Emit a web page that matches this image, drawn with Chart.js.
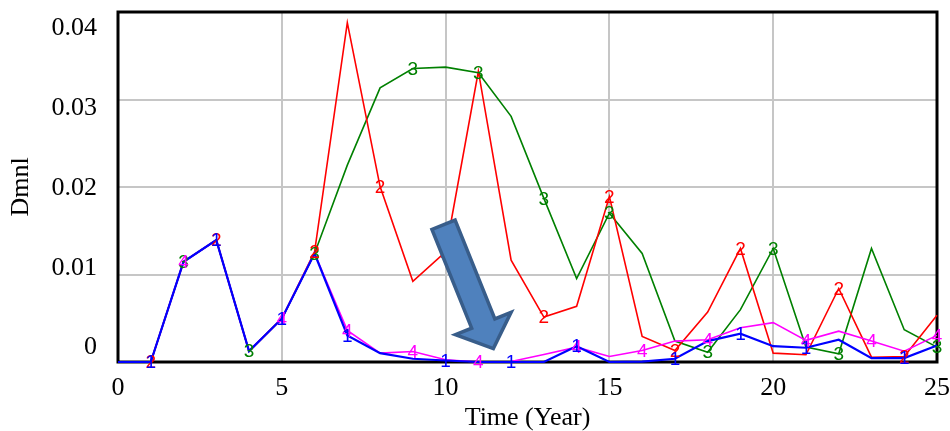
<!DOCTYPE html>
<html>
<head>
<meta charset="utf-8">
<script src="https://cdn.jsdelivr.net/npm/chart.js@4.4.1/dist/chart.umd.min.js"></script>
<style>
  html, body { margin: 0; padding: 0; background: #ffffff; }
  canvas { display: block; }
</style>
</head>
<body>
<canvas id="chart" width="950" height="431"></canvas>
<script>
// Simulation output, one value per year
const years = [0, 1, 2, 3, 4, 5, 6, 7, 8, 9, 10, 11, 12, 13, 14, 15, 16, 17, 18, 19, 20, 21, 22, 23, 24, 25];

const series1 = [0, 0, 0.01145, 0.01393, 0.00124, 0.00495, 0.0124, 0.00304, 0.00101, 0.00037, 0.00017, 0, 0, 0,
  0.00181, 0, 0.00005, 0.00037, 0.00239, 0.00323, 0.00181, 0.00163, 0.00255, 0.00044, 0.00044, 0.00189];
const series2 = [0, 0, 0.01145, 0.01393, 0.00124, 0.00495, 0.0126, 0.03878, 0.02005, 0.00923, 0.0126, 0.03323, 0.01164, 0.00514,
  0.00636, 0.0189, 0.00292, 0.00132, 0.00571, 0.01298, 0.00101, 0.00083, 0.0084, 0.00055, 0.00063, 0.00533];
const series3 = [0, 0, 0.01145, 0.01393, 0.00124, 0.00495, 0.0124, 0.0225, 0.03133, 0.03354, 0.0337, 0.03305, 0.02807, 0.0187,
  0.00954, 0.017, 0.0124, 0.00239, 0.00112, 0.00598, 0.01298, 0.0017, 0.00094, 0.01298, 0.00369, 0.0017];
const series4 = [0, 0, 0.01145, 0.01393, 0.00124, 0.00495, 0.0124, 0.00361, 0.00101, 0.0012, 0.00025, 0, 0.00005, 0.00086,
  0.0017, 0.00063, 0.00132, 0.00239, 0.00255, 0.00392, 0.0045, 0.00247, 0.00353, 0.00239, 0.00124, 0.00304];

// Years at which each run carries its number tag
const marks1 = [1, 3, 5, 7, 10, 12, 14, 17, 19, 21, 24];
const marks2 = [1, 3, 6, 8, 10, 13, 15, 17, 19, 22, 24];
const marks3 = [2, 4, 6, 9, 11, 13, 15, 18, 20, 22, 25];
const marks4 = [2, 5, 7, 9, 11, 14, 16, 18, 21, 23, 25];

const runNames = ['1', '2', '3', '4'];
const runColors = ['#0000ff', '#ff0000', '#008000', '#ff00ff'];

// Axis ticks
const xTickValues = [0, 5, 10, 15, 20, 25];
const yTickValues = [0, 0.01, 0.02, 0.03, 0.04];
const yTickLabels = ['0', '0.01', '0.02', '0.03', '0.04'];
const xTitle = 'Time (Year)';
const yTitle = 'Dmnl';

// Block arrow, tail and tip in data units
const arrowTail = { x: 9.92, y: 0.01585 };
const arrowTip = { x: 11.48, y: 0.00132 };

const SERIF = '"Liberation Serif", "Times New Roman", serif';
const SANS = '"Liberation Sans", Arial, sans-serif';

function toPoints(values) {
  return years.map((t, i) => ({ x: t, y: values[i] }));
}

const allSeries = [series1, series2, series3, series4];
const allMarks = [marks1, marks2, marks3, marks4];
const drawOrder = [1, 3, 4, 2];
const widths = [2.2, 1.6, 1.6, 1.6];

const datasets = allSeries.map((vals, i) => ({
  label: runNames[i],
  data: toPoints(vals),
  borderColor: runColors[i],
  backgroundColor: runColors[i],
  borderWidth: widths[i],
  pointRadius: 0,
  pointHoverRadius: 0,
  tension: 0,
  fill: false,
  clip: 6,
  order: drawOrder[i],
  marks: allMarks[i]
}));

// Heavy frame around the plot area, drawn under the runs
const framePlugin = {
  id: 'plotFrame',
  beforeDatasetsDraw(chart) {
    const { ctx, chartArea: a } = chart;
    ctx.save();
    ctx.strokeStyle = '#000000';
    ctx.lineWidth = 3;
    ctx.strokeRect(a.left, a.top, a.right - a.left, a.bottom - a.top);
    ctx.restore();
  }
};

// Number tags along each run, placed on the line's own points
const tagPlugin = {
  id: 'runTags',
  afterDatasetsDraw(chart) {
    const ctx = chart.ctx;
    ctx.save();
    ctx.font = '19px ' + SANS;
    ctx.textAlign = 'center';
    ctx.textBaseline = 'middle';
    const metas = chart.getSortedVisibleDatasetMetas().slice().reverse();
    metas.forEach(meta => {
      const ds = chart.data.datasets[meta.index];
      ctx.fillStyle = ds.borderColor;
      ds.marks.forEach(t => {
        const idx = years.indexOf(t);
        const el = meta.data[idx];
        if (el) ctx.fillText(ds.label, el.x, el.y + 1);
      });
    });
    ctx.restore();
  }
};

// Block arrow pointing down to the low runs
const arrowPlugin = {
  id: 'blockArrow',
  afterDatasetsDraw(chart) {
    const { ctx, scales } = chart;
    const x0 = scales.x.getPixelForValue(arrowTail.x);
    const y0 = scales.y.getPixelForValue(arrowTail.y);
    const x1 = scales.x.getPixelForValue(arrowTip.x);
    const y1 = scales.y.getPixelForValue(arrowTip.y);
    const dx = x1 - x0, dy = y1 - y0;
    const len = Math.hypot(dx, dy);
    const ux = dx / len, uy = dy / len;
    const px = -uy, py = ux;
    const shaftHalf = 12.5, headHalf = 30;
    const start = 1.5, end = len - 2, headLen = 27;
    const pt = (u, v) => [x0 + ux * u + px * v, y0 + uy * u + py * v];
    const poly = [
      pt(start, -shaftHalf), pt(end - headLen, -shaftHalf), pt(end - headLen, -headHalf),
      pt(end, 0),
      pt(end - headLen, headHalf), pt(end - headLen, shaftHalf), pt(start, shaftHalf)
    ];
    ctx.save();
    ctx.beginPath();
    poly.forEach((p, i) => (i ? ctx.lineTo(p[0], p[1]) : ctx.moveTo(p[0], p[1])));
    ctx.closePath();
    ctx.fillStyle = '#4f81bd';
    ctx.fill();
    ctx.lineJoin = 'miter';
    ctx.lineWidth = 3.5;
    ctx.strokeStyle = '#385d8a';
    ctx.stroke();
    ctx.restore();
  }
};

function zeroPadding(scale) {
  scale.paddingTop = 0;
  scale.paddingBottom = 0;
  scale.paddingLeft = 0;
  scale.paddingRight = 0;
}

new Chart(document.getElementById('chart'), {
  type: 'line',
  data: { datasets },
  options: {
    responsive: false,
    devicePixelRatio: 1,
    animation: false,
    events: [],
    layout: { padding: { top: 12, right: 13, left: 0, bottom: 0 } },
    plugins: {
      legend: { display: false },
      tooltip: { enabled: false }
    },
    scales: {
      x: {
        type: 'linear',
        min: 0,
        max: 25,
        afterBuildTicks: s => { s.ticks = xTickValues.map(v => ({ value: v })); },
        afterFit: s => { s.height = 69; zeroPadding(s); },
        border: { display: false },
        grid: { color: '#c6c6c6', lineWidth: 2, drawTicks: false },
        ticks: {
          padding: 11,
          color: '#000000',
          font: { family: SERIF, size: 26 },
          maxRotation: 0,
          callback: v => String(v)
        },
        title: {
          display: true,
          text: xTitle,
          color: '#000000',
          font: { family: SERIF, size: 26, lineHeight: 1 },
          padding: { top: 0, bottom: 0 }
        }
      },
      y: {
        type: 'linear',
        position: 'left',
        min: 0,
        max: 0.04,
        afterBuildTicks: s => { s.ticks = yTickValues.map(v => ({ value: v })); },
        afterFit: s => { s.width = 0; zeroPadding(s); },
        border: { display: false },
        grid: { color: '#c6c6c6', lineWidth: 2, drawTicks: false },
        ticks: { display: false }
      },
      yLabels: {
        type: 'linear',
        position: 'left',
        min: -0.001824,
        max: 0.04205,
        afterBuildTicks: s => { s.ticks = yTickValues.map(v => ({ value: v })); },
        afterFit: s => { s.width = 118; zeroPadding(s); },
        border: { display: false },
        grid: { display: false, drawTicks: false },
        ticks: {
          padding: 21,
          color: '#000000',
          font: { family: SERIF, size: 26 },
          callback: (v, i) => yTickLabels[i]
        },
        title: {
          display: true,
          text: yTitle,
          color: '#000000',
          font: { family: SERIF, size: 26, lineHeight: 1.2 },
          padding: { top: 6, bottom: 0 }
        }
      }
    }
  },
  plugins: [framePlugin, tagPlugin, arrowPlugin]
});
</script>
</body>
</html>
